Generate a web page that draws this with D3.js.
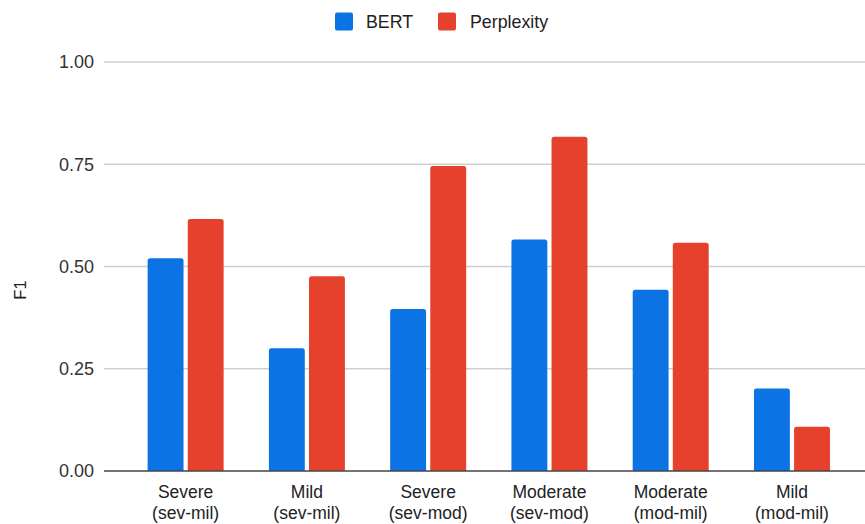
<!DOCTYPE html>
<html>
<head>
<meta charset="utf-8">
<script src="https://cdn.jsdelivr.net/npm/d3@7"></script>
<style>
  html, body { margin: 0; padding: 0; background: #fff; }
  svg { display: block; font-family: Arial, "Liberation Sans", sans-serif; }
</style>
</head>
<body>
<svg id="chart" width="865" height="524"></svg>
<script>
// Category labels (two lines each) and F1 scores per method
const categories = [
  ["Severe", "(sev-mil)"],
  ["Mild", "(sev-mil)"],
  ["Severe", "(sev-mod)"],
  ["Moderate", "(sev-mod)"],
  ["Moderate", "(mod-mil)"],
  ["Mild", "(mod-mil)"]
];
const seriesNames = ["BERT", "Perplexity"];
const bertValues = [0.52, 0.30, 0.396, 0.566, 0.443, 0.202];
const perplexityValues = [0.616, 0.476, 0.746, 0.817, 0.558, 0.108];
const yTicks = [0, 0.25, 0.5, 0.75, 1.0];

const colors = { BERT: "#0b73e3", Perplexity: "#e5412d" };

const svg = d3.select("#chart");
const gridLeft = 104, gridRight = 865;
const plotTop = 62, plotBottom = 471;

const keys = categories.map((c, i) => i);
const x0 = d3.scaleBand().domain(keys).range([125, 852.6]).paddingInner(0).paddingOuter(0);
const x1 = d3.scaleBand().domain(seriesNames).range([x0.bandwidth() / 2 - 38, x0.bandwidth() / 2 + 38]).paddingInner(0.105).paddingOuter(0);
const y = d3.scaleLinear().domain([0, 1]).range([plotBottom, plotTop]);

// Horizontal gridlines
svg.append("g")
  .selectAll("line")
  .data(yTicks.filter(t => t > 0))
  .join("line")
  .attr("x1", gridLeft).attr("x2", gridRight)
  .attr("y1", d => y(d)).attr("y2", d => y(d))
  .attr("stroke", "#cfcfcf").attr("stroke-width", 1.3);

// Y tick labels
const yAxis = d3.axisLeft(y).tickValues(yTicks).tickFormat(d3.format(".2f")).tickSize(0).tickPadding(0);
const yg = svg.append("g").attr("transform", `translate(${gridLeft - 10},0)`).call(yAxis);
yg.select(".domain").remove();
yg.selectAll("text").attr("font-size", 18).attr("fill", "#333").attr("font-family", "Arial, 'Liberation Sans', sans-serif");

// Y axis title
svg.append("text")
  .attr("transform", `translate(26,290) rotate(-90)`)
  .attr("text-anchor", "middle")
  .attr("font-size", 16.5)
  .attr("fill", "#222")
  .text("F1");

// Bars with rounded top corners
const data = keys.map(i => ({
  i,
  vals: [
    { key: "BERT", value: bertValues[i] },
    { key: "Perplexity", value: perplexityValues[i] }
  ]
}));

function topRounded(x, yTop, w, h, r) {
  r = Math.min(r, w / 2, h);
  return `M${x},${yTop + h}V${yTop + r}Q${x},${yTop} ${x + r},${yTop}H${x + w - r}Q${x + w},${yTop} ${x + w},${yTop + r}V${yTop + h}Z`;
}

svg.append("g")
  .selectAll("g")
  .data(data)
  .join("g")
  .attr("transform", d => `translate(${x0(d.i)},0)`)
  .selectAll("path")
  .data(d => d.vals)
  .join("path")
  .attr("d", d => topRounded(x1(d.key), y(d.value), x1.bandwidth(), y(0) - y(d.value), 2.5))
  .attr("fill", d => colors[d.key]);

// Baseline
svg.append("line")
  .attr("x1", gridLeft).attr("x2", gridRight)
  .attr("y1", y(0)).attr("y2", y(0))
  .attr("stroke", "#444").attr("stroke-width", 1.5);

// Category labels
const xl = svg.append("g");
categories.forEach((lines, i) => {
  const cx = x0(i) + x0.bandwidth() / 2;
  const t = xl.append("text")
    .attr("x", cx).attr("y", 497.5)
    .attr("text-anchor", "middle")
    .attr("font-size", 17.5)
    .attr("fill", "#222");
  lines.forEach((ln, k) => {
    t.append("tspan").attr("x", cx).attr("y", 497.5 + k * 21).text(ln);
  });
});

// Legend
const legend = svg.append("g");
const legendItems = [
  { key: "BERT", x: 335, tx: 366 },
  { key: "Perplexity", x: 438, tx: 470 }
];
legendItems.forEach(it => {
  legend.append("rect")
    .attr("x", it.x).attr("y", 12.5).attr("width", 18).attr("height", 18)
    .attr("rx", 2).attr("fill", colors[it.key]);
  legend.append("text")
    .attr("x", it.tx).attr("y", 28)
    .attr("font-size", 17.8)
    .attr("fill", "#222")
    .text(it.key);
});
</script>
</body>
</html>
